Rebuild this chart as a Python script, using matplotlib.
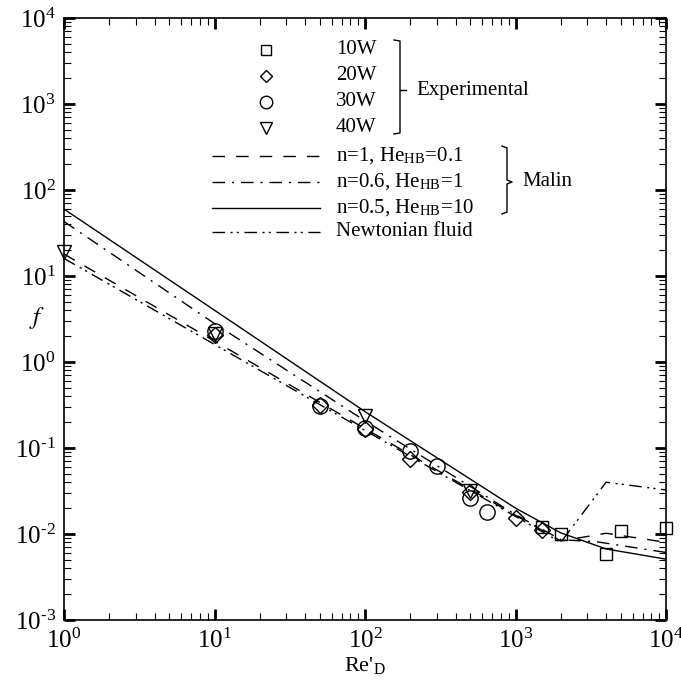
import numpy as np
import matplotlib
matplotlib.use("Agg")
from matplotlib import pyplot as plt
from matplotlib.ticker import LogLocator, NullFormatter, FuncFormatter

plt.rcParams['font.family'] = ['Liberation Serif', 'DejaVu Serif']
plt.rcParams['mathtext.fontset'] = 'stix'
plt.rcParams['axes.unicode_minus'] = False

# experimental points
re_10w = [1500, 2000, 4000, 5000, 10000]
f_10w = [0.0121, 0.0101, 0.0059, 0.0108, 0.0116]
re_20w = [10, 50, 100, 200, 500, 1000, 1500]
f_20w = [2.08, 0.32, 0.166, 0.0736, 0.031, 0.0154, 0.011]
re_30w = [10, 50, 100, 200, 300, 500, 650]
f_30w = [2.27, 0.31, 0.17, 0.092, 0.061, 0.026, 0.0178]
re_40w = [1, 10, 100, 500]
f_40w = [19, 2.13, 0.238, 0.032]

# Malin correlation curves
re_n1 = [1, 10, 100, 1000, 2000, 4000, 10000]
f_n1 = [18, 1.75, 0.168, 0.0165, 0.0083, 0.0102, 0.0080]
re_n06 = [1, 10, 100, 1000, 2000, 3500, 10000]
f_n06 = [43, 2.8, 0.207, 0.0168, 0.0086, 0.0081, 0.0061]
re_n05 = [1, 10, 100, 1000, 2000, 4000, 10000]
f_n05 = [60, 4.0, 0.265, 0.0200, 0.0103, 0.0067, 0.0051]
re_newt = [1, 10, 100, 1000, 2000, 4000, 10000]
f_newt = [16, 1.6, 0.16, 0.016, 0.008, 0.040, 0.0325]

fig = plt.figure(figsize=(6.81, 6.83), dpi=100)
ax = fig.add_axes([64/681, 1 - 620/683, 602/681, 602/683])

lw = 1.0
dash = (0, (9, 8))
dashdot = (0, (9, 5, 1.5, 5))
dashdotdot = (0, (9, 4, 1.5, 3, 1.5, 4))

ax.plot(re_n1, f_n1, color='k', lw=lw, linestyle=dash)
ax.plot(re_n06, f_n06, color='k', lw=lw, linestyle=dashdot)
ax.plot(re_n05, f_n05, color='k', lw=lw, linestyle='-')
ax.plot(re_newt, f_newt, color='k', lw=lw, linestyle=dashdotdot)

mk = dict(linestyle='none', mfc='none', mec='k', mew=1.0, clip_on=False)
ax.plot(re_10w, f_10w, marker='s', ms=9, **mk)
ax.plot(re_20w, f_20w, marker='D', ms=8, **mk)
ax.plot(re_30w, f_30w, marker='o', ms=11, **mk)
ax.plot(re_40w, f_40w, marker='v', ms=10, **mk)

ax.set_xscale('log')
ax.set_yscale('log')
ax.set_xlim(1, 1e4)
ax.set_ylim(1e-3, 1e4)


def pow10(v, pos):
    e = int(round(np.log10(v)))
    if e < 0:
        return r'$\mathregular{10^{\text{-}%d}}$' % (-e)
    return r'$\mathregular{10^{%d}}$' % e


for a in (ax.xaxis, ax.yaxis):
    a.set_major_locator(LogLocator(base=10, numticks=20))
    a.set_major_formatter(FuncFormatter(pow10))
    a.set_minor_locator(LogLocator(base=10, subs=np.arange(2, 10), numticks=100))
    a.set_minor_formatter(NullFormatter())
ax.tick_params(which='both', direction='in', top=True, right=True)
ax.tick_params(which='major', length=8, width=2, labelsize=18, pad=6)
ax.tick_params(which='minor', length=5, width=0.8)
for s in ax.spines.values():
    s.set_linewidth(1.2)

ax.set_xlabel("Re'$_\\mathregular{D}$", fontsize=16, labelpad=2)
ax.set_ylabel("$f$", fontsize=18, rotation=0, va='center', ha='center')
ax.yaxis.set_label_coords((37 - 64) / 602, (620 - 318) / 602)


# legend drawn by hand, positions given in figure pixels
def px(x, y):
    return ((x - 64) / 602, (620 - y) / 602)


tr = ax.transAxes
fs = 15
mark_styles = [('s', 7), ('D', 6.5), ('o', 9), ('v', 8)]
labels_w = ['10W', '20W', '30W', '40W']
ys_w = [50, 76, 102, 128]
for (m, s), lab, y in zip(mark_styles, labels_w, ys_w):
    ax.plot(*px(266, y), marker=m, ms=s, mfc='none', mec='k', mew=1.0,
            transform=tr, clip_on=False)
    ax.text(*px(336, y), lab, fontsize=fs, va='center', ha='left', transform=tr)

bx = [px(394, 40), px(400, 41), px(400, 133), px(394, 134)]
ax.plot([p[0] for p in bx], [p[1] for p in bx], color='k', lw=1.0, transform=tr)
ax.plot(*zip(px(400, 90), px(406, 90)), color='k', lw=1.0, transform=tr)
ax.text(*px(416, 90), 'Experimental', fontsize=fs, va='center', ha='left', transform=tr)

line_styles = [dash, dashdot, '-', dashdotdot]
labels_l = ['n=1, He$_\\mathregular{HB}$=0.1', 'n=0.6, He$_\\mathregular{HB}$=1',
            'n=0.5, He$_\\mathregular{HB}$=10', 'Newtonian fluid']
ys_l = [156, 182, 208, 232]
for ls, lab, y in zip(line_styles, labels_l, ys_l):
    ax.plot(*zip(px(212, y), px(320, y)), color='k', lw=lw, linestyle=ls, transform=tr)
    ax.text(*px(336, y), lab, fontsize=fs, va='center', ha='left', transform=tr)

br = [px(502, 146), px(507, 148), px(507, 180), px(512, 182), px(507, 184),
      px(507, 212), px(502, 214)]
ax.plot([p[0] for p in br], [p[1] for p in br], color='k', lw=1.0, transform=tr)
ax.text(*px(522, 182), 'Malin', fontsize=fs, va='center', ha='left', transform=tr)

fig.savefig('out.png', dpi=100)
